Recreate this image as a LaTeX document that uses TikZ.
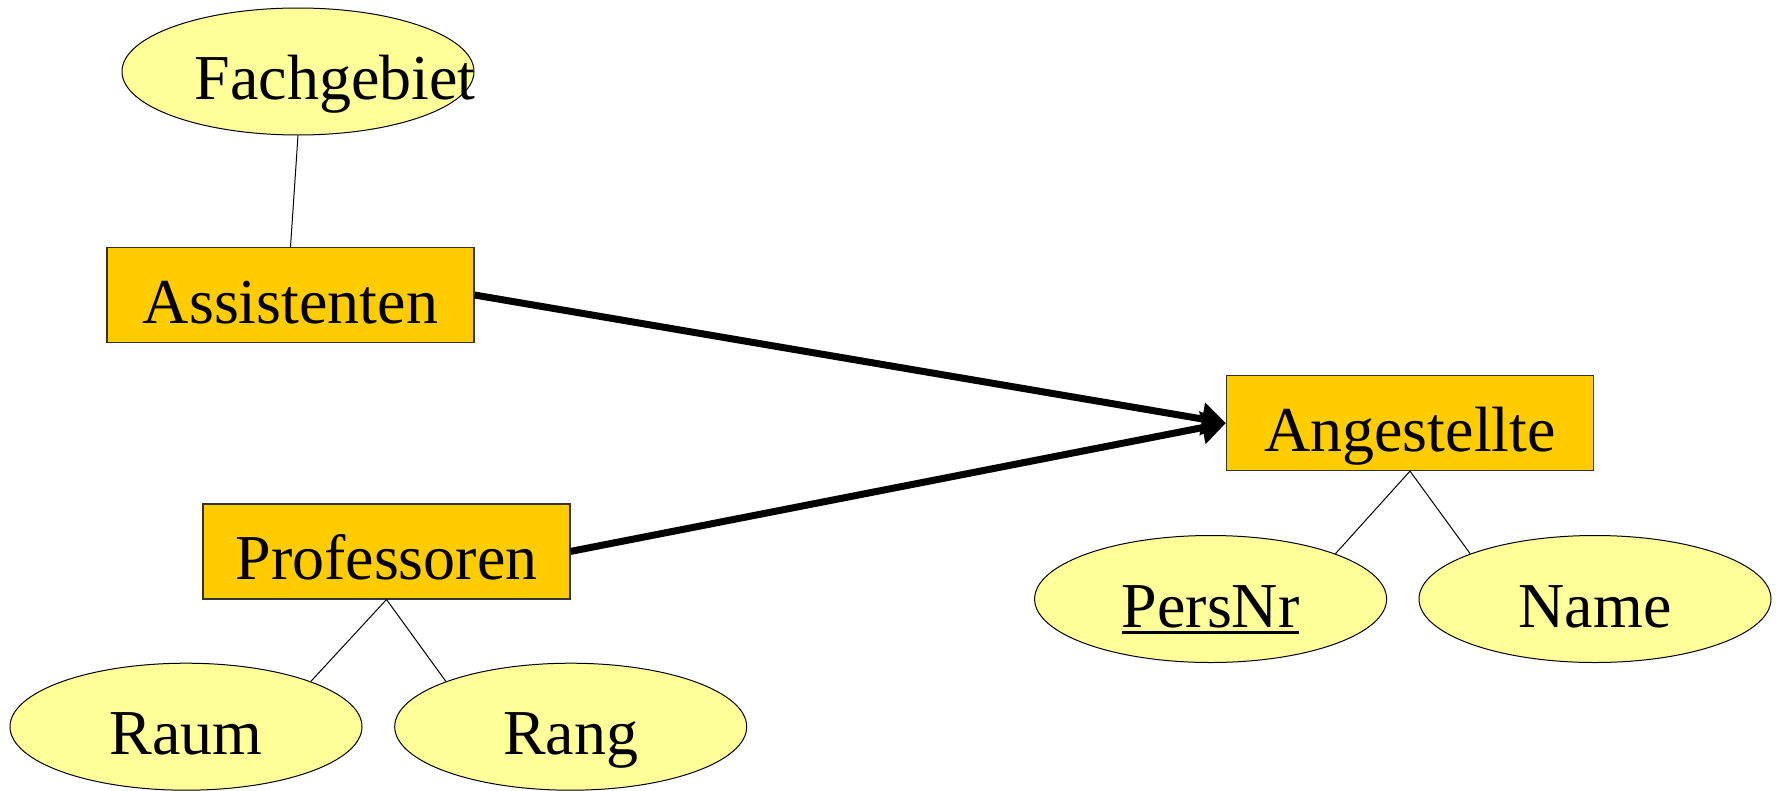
\documentclass[tikz,border=0pt]{standalone}
\usepackage{fontspec}
\setmainfont{Liberation Serif}
\usetikzlibrary{arrows.meta,shapes.geometric}
\definecolor{entfill}{HTML}{FFCC00}
\definecolor{attfill}{HTML}{FFFF99}
\newcommand\keyul[1]{\setbox0\hbox{#1}\rlap{\rule[-7pt]{\wd0}{3pt}}\box0}
\begin{document}
\begin{tikzpicture}[x=1pt,y=-1pt,
  txt/.style={font=\fontsize{64}{76}\selectfont,text height=56pt,text depth=0pt},
  entity/.style={txt,draw=black!80,line width=1.2pt,fill=entfill,minimum width=367pt,minimum height=95pt,inner sep=0pt},
  attr/.style={txt,draw=black,line width=1pt,fill=attfill,ellipse,minimum width=352pt,minimum height=127pt,inner sep=0pt},
  conn/.style={line width=1pt},
  isa/.style={line width=7pt,-{Triangle[length=24pt,width=32pt]}}
]
\useasboundingbox (0,0) rectangle (1779,790);
\node[attr,label={[txt,inner sep=0pt,xshift=37pt]center:Fachgebiet}] (fach) at (298,71.5) {};
\node[entity] (assi) at (290.5,295) {Assistenten};
\node[entity] (ang) at (1410,423) {Angestellte};
\node[entity] (prof) at (386.5,551.4) {Professoren};
\node[attr] (pers) at (1210.6,599) {\keyul{PersNr}};
\node[attr] (name) at (1595,599) {Name};
\node[attr] (raum) at (186,726.7) {Raum};
\node[attr] (rang) at (570.7,726.7) {Rang};
\draw[conn] (fach.south) -- (assi.north);
\draw[conn] (ang.south) -- (pers.north east);
\draw[conn] (ang.south) -- (name.north west);
\draw[conn] (prof.south) -- (raum.north east);
\draw[conn] (prof.south) -- (rang.north west);
\draw[isa] (assi.east) -- (ang.west);
\draw[isa] (prof.east) -- (ang.west);
\end{tikzpicture}
\end{document}
